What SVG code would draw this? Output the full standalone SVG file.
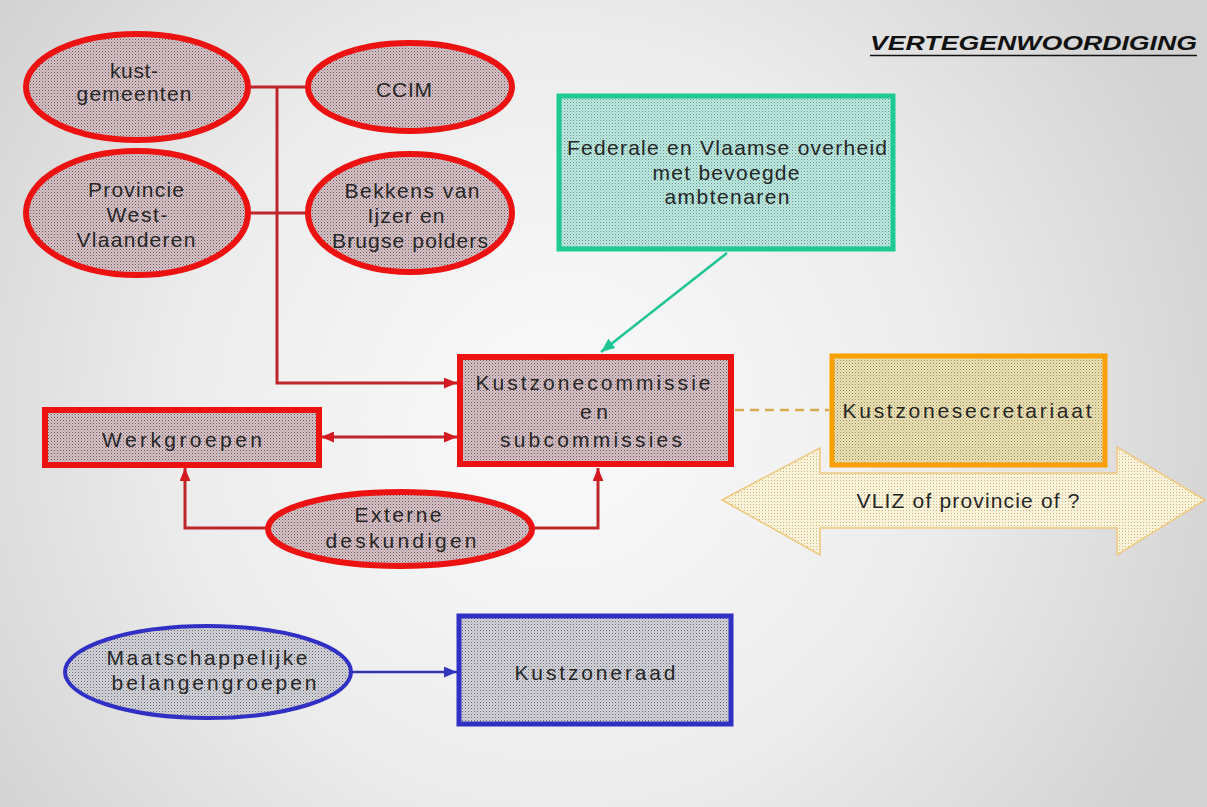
<svg xmlns="http://www.w3.org/2000/svg" width="1207" height="807" viewBox="0 0 1207 807">
<defs>
<radialGradient id="bg" cx="560" cy="420" r="700" gradientUnits="userSpaceOnUse">
<stop offset="0" stop-color="#fbfbfb"/>
<stop offset="0.55" stop-color="#ececec"/>
<stop offset="1" stop-color="#d2d2d2"/>
</radialGradient>
<pattern id="pRed" width="3" height="3" patternUnits="userSpaceOnUse"><rect width="3" height="3" fill="#d6c4c8"/><rect width="1" height="1" fill="#6e545a"/><rect x="1.5" y="1.5" width="1" height="1" fill="#947a80"/></pattern>
<pattern id="pTeal" width="3" height="3" patternUnits="userSpaceOnUse"><rect width="3" height="3" fill="#c0e9e2"/><rect width="1" height="1" fill="#5a978d"/><rect x="1.5" y="1.5" width="1" height="1" fill="#80b6ac"/></pattern>
<pattern id="pYel" width="3" height="3" patternUnits="userSpaceOnUse"><rect width="3" height="3" fill="#ece3b8"/><rect width="1" height="1" fill="#968a54"/><rect x="1.5" y="1.5" width="1" height="1" fill="#b8aa74"/></pattern>
<pattern id="pArr" width="3" height="3" patternUnits="userSpaceOnUse"><rect width="3" height="3" fill="#faf3da"/><rect width="1" height="1" fill="#c9b680"/></pattern>
<pattern id="pBlue" width="3" height="3" patternUnits="userSpaceOnUse"><rect width="3" height="3" fill="#d4d4da"/><rect width="1" height="1" fill="#666670"/><rect x="1.5" y="1.5" width="1" height="1" fill="#94949e"/></pattern>
<marker id="aRed" viewBox="0 0 12 10" refX="12" refY="5" markerWidth="13" markerHeight="11" markerUnits="userSpaceOnUse" orient="auto-start-reverse"><path d="M0,0 L12,5 L0,10 z" fill="#d41a20"/></marker>
<marker id="aTeal" viewBox="0 0 12 10" refX="12" refY="5" markerWidth="14" markerHeight="12" markerUnits="userSpaceOnUse" orient="auto"><path d="M0,0 L12,5 L0,10 z" fill="#1ec494"/></marker>
<marker id="aBlue" viewBox="0 0 12 10" refX="12" refY="5" markerWidth="13" markerHeight="11" markerUnits="userSpaceOnUse" orient="auto"><path d="M0,0 L12,5 L0,10 z" fill="#3434c0"/></marker>
<style>
.t{font-family:"Liberation Sans",Arial,sans-serif;font-size:21px;fill:#262626;text-anchor:middle}
.rn{fill:url(#pRed);stroke:#ec1212;stroke-width:6}
.cr{fill:none;stroke:#bf262b;stroke-width:3}
</style>
</defs>
<rect width="1207" height="807" fill="url(#bg)"/>

<g id="title">
<text x="870" y="50" font-family="Liberation Sans,Arial,sans-serif" font-size="21" font-weight="bold" font-style="italic" fill="#111" textLength="327" lengthAdjust="spacingAndGlyphs">VERTEGENWOORDIGING</text>
<line x1="870" y1="55.5" x2="1197" y2="55.5" stroke="#111" stroke-width="1.5"/>
</g>

<g id="connectors">
<path class="cr" d="M250,87 H307 M277,87 V383 H457" marker-end="url(#aRed)"/>
<path class="cr" d="M250,213 H307"/>
<path class="cr" d="M321,437 H457" marker-start="url(#aRed)" marker-end="url(#aRed)"/>
<path class="cr" d="M267,528 H185 V468" marker-end="url(#aRed)"/>
<path class="cr" d="M532,528 H598 V468" marker-end="url(#aRed)"/>
<path d="M727,253 L601,352" stroke="#1ec494" stroke-width="2.5" fill="none" marker-end="url(#aTeal)"/>
<path d="M735,410 H829" stroke="#d8aa50" stroke-width="2.5" stroke-dasharray="9,6" fill="none"/>
<path d="M351,672 H457" stroke="#3434a8" stroke-width="2.5" fill="none" marker-end="url(#aBlue)"/>
</g>

<g id="kustgemeenten">
<ellipse class="rn" cx="137" cy="87" rx="111" ry="53"/>
<text class="t" x="134" y="78" textLength="48">kust-</text>
<text class="t" x="134" y="101" textLength="115">gemeenten</text>
</g>

<g id="ccim">
<ellipse class="rn" cx="410" cy="87" rx="102" ry="44"/>
<text class="t" x="404" y="97" textLength="56">CCIM</text>
</g>

<g id="provincie">
<ellipse class="rn" cx="137" cy="213" rx="111" ry="62"/>
<text class="t" x="136" y="197" textLength="96">Provincie</text>
<text class="t" x="137" y="222" textLength="61">West-</text>
<text class="t" x="136" y="247" textLength="119">Vlaanderen</text>
</g>

<g id="bekkens">
<ellipse class="rn" cx="410" cy="213" rx="102" ry="59"/>
<text class="t" x="412" y="198" textLength="135">Bekkens van</text>
<text class="t" x="406" y="223" textLength="77">Ijzer en</text>
<text class="t" x="410" y="248" textLength="156">Brugse polders</text>
</g>

<g id="federale">
<rect x="559" y="96" width="334" height="153" fill="url(#pTeal)" stroke="#1ec994" stroke-width="5"/>
<text class="t" x="727" y="155" textLength="320">Federale en Vlaamse overheid</text>
<text class="t" x="726" y="180" textLength="147">met bevoegde</text>
<text class="t" x="727" y="204" textLength="125">ambtenaren</text>
</g>

<g id="kustzonecommissie">
<rect x="460" y="357" width="271" height="107" class="rn"/>
<text class="t" x="593" y="390" font-size="22" textLength="235">Kustzonecommissie</text>
<text class="t" x="594" y="419" font-size="22" textLength="28">en</text>
<text class="t" x="591" y="447" font-size="22" textLength="182">subcommissies</text>
</g>

<g id="werkgroepen">
<rect x="45" y="410" width="274" height="55" class="rn" stroke-width="5"/>
<text class="t" x="182" y="447" font-size="22" textLength="160">Werkgroepen</text>
</g>

<g id="externe">
<ellipse class="rn" cx="400" cy="529" rx="132" ry="37"/>
<text class="t" x="398" y="522" textLength="87">Externe</text>
<text class="t" x="401" y="548" textLength="151">deskundigen</text>
</g>

<g id="vliz">
<path d="M722,500 L820,448 V473 H1117 V447 L1205,500 L1117,555 V528 H820 V555 Z" fill="url(#pArr)" stroke="#efc87e" stroke-width="1.5"/>
<text class="t" x="968" y="508" textLength="223">VLIZ of provincie of ?</text>
</g>

<g id="kustzonesecretariaat">
<rect x="832" y="356" width="273" height="109" fill="url(#pYel)" stroke="#f8a000" stroke-width="5"/>
<text class="t" x="967" y="418" font-size="22" textLength="249">Kustzonesecretariaat</text>
</g>

<g id="maatschappelijke">
<ellipse cx="208" cy="672" rx="143" ry="46" fill="url(#pBlue)" stroke="#3030c4" stroke-width="4"/>
<text class="t" x="207" y="665" textLength="201">Maatschappelijke</text>
<text class="t" x="214" y="690" textLength="205">belangengroepen</text>
</g>

<g id="kustzoneraad">
<rect x="459" y="616" width="272" height="108" fill="url(#pBlue)" stroke="#3030c4" stroke-width="5"/>
<text class="t" x="595" y="680" font-size="22" textLength="161">Kustzoneraad</text>
</g>
</svg>
